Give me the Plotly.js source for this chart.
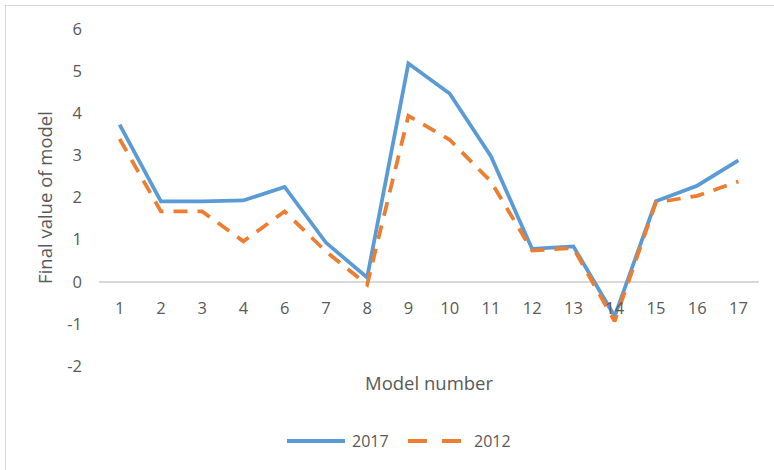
<!DOCTYPE html>
<html>
<head>
<meta charset="utf-8">
<script src="https://cdn.plot.ly/plotly-3.0.1.min.js"></script>
<style>
  html, body { margin: 0; padding: 0; background: #ffffff; }
  #wrap { position: relative; width: 774px; height: 470px; overflow: hidden; }
  #chart { width: 774px; height: 470px; position: relative; }
  #frame { position: absolute; left: 5px; top: 5px; width: 800px; height: 500px;
           border-left: 1.5px solid #d9d9d9; border-top: 1.5px solid #d9d9d9;
           pointer-events: none; }
</style>
</head>
<body>
<div id="wrap">
  <div id="chart"></div>
  <div id="frame"></div>
</div>
<script>
const modelNumbers = ["1", "2", "3", "4", "6", "7", "8", "9", "10", "11", "12", "13", "14", "15", "16", "17"];
const values2017 = [3.73, 1.91, 1.91, 1.93, 2.25, 0.93, 0.1, 5.18, 4.47, 2.98, 0.78, 0.84, -0.82, 1.91, 2.28, 2.88];
const values2012 = [3.39, 1.67, 1.67, 0.96, 1.67, 0.72, -0.07, 3.94, 3.37, 2.38, 0.74, 0.80, -0.94, 1.88, 2.04, 2.38];
const seriesNames = ["2017", "2012"];
const yTickValues = [-2, -1, 0, 1, 2, 3, 4, 5, 6];
const yTickText = ["-2", "-1", "0", "1", "2", "3", "4", "5", "6"];

const fontFamily = "'Open Sans', sans-serif";
const textColor = "#595959";
const blue = "#5B9BD5";
const orange = "#ED7D31";

const traces = [
  {
    x: modelNumbers, y: values2017, name: seriesNames[0], type: "scatter", mode: "lines",
    line: { color: blue, width: 3.75 }, showlegend: false
  },
  {
    x: modelNumbers, y: values2012, name: seriesNames[1], type: "scatter", mode: "lines",
    line: { color: orange, width: 3.75, dash: "14px,10px" }, showlegend: false
  }
];

// Legend drawn in paper coordinates (below the plot area)
const legY = -0.2226;
const shapes = [
  { type: "line", xref: "paper", yref: "paper", x0: 0.2848, x1: 0.3727, y0: legY, y1: legY,
    line: { color: blue, width: 4 } },
  { type: "line", xref: "paper", yref: "paper", x0: 0.4682, x1: 0.5485, y0: legY, y1: legY,
    line: { color: orange, width: 4, dash: "19px,15px" } }
];
const annotations = [
  { text: seriesNames[0], xref: "paper", yref: "paper", x: 0.3803, y: legY, xanchor: "left", yanchor: "middle",
    showarrow: false, font: { family: fontFamily, size: 16, color: textColor } },
  { text: seriesNames[1], xref: "paper", yref: "paper", x: 0.5652, y: legY, xanchor: "left", yanchor: "middle",
    showarrow: false, font: { family: fontFamily, size: 16, color: textColor } },
  { text: "Model number", xref: "paper", yref: "paper", x: 0.5, y: -0.0504, xanchor: "center", yanchor: "middle",
    showarrow: false, font: { family: fontFamily, size: 18.5, color: textColor } }
];

const layout = {
  width: 774, height: 470,
  margin: { l: 99, r: 15, t: 29, b: 104 },
  paper_bgcolor: "rgba(0,0,0,0)",
  plot_bgcolor: "rgba(0,0,0,0)",
  font: { family: fontFamily, size: 16, color: textColor },
  showlegend: false,
  shapes: shapes,
  annotations: annotations,
  xaxis: {
    type: "category",
    range: [-0.5, 15.5],
    anchor: "free", position: 0.25,
    showline: false, showgrid: false, zeroline: false,
    ticks: "", ticklabelstandoff: 15,
    tickfont: { family: fontFamily, size: 16.5, color: textColor },
    fixedrange: true
  },
  yaxis: {
    range: [-2, 6],
    tickvals: yTickValues,
    ticktext: yTickText,
    showgrid: false,
    zeroline: true, zerolinecolor: "#d9d9d9", zerolinewidth: 1.5,
    showline: false, ticks: "", ticklabelstandoff: 16,
    tickfont: { family: fontFamily, size: 16.5, color: textColor },
    title: { text: "Final value of model", font: { family: fontFamily, size: 18.5, color: textColor }, standoff: 9 },
    fixedrange: true
  }
};

Plotly.newPlot("chart", traces, layout, { displayModeBar: false, staticPlot: true });
</script>
</body>
</html>
